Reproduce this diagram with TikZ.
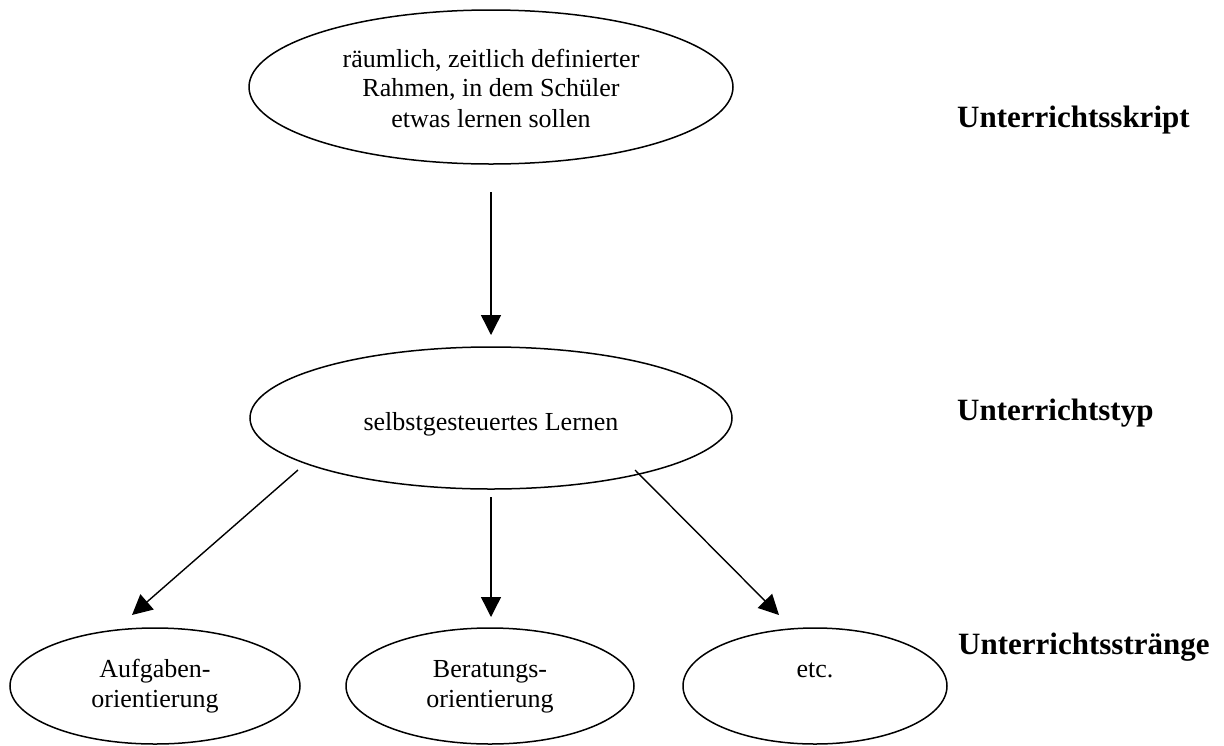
\documentclass[tikz,border=0pt]{standalone}
\usepackage{fontspec}
\setmainfont{Liberation Serif}
\usetikzlibrary{shapes.geometric,arrows.meta}

\begin{document}
\begin{tikzpicture}[x=1pt,y=-1pt,
  oval/.style={draw=black,line width=1.5pt,ellipse,inner sep=0pt},
  txt/.style={anchor=base,inner sep=0pt,font=\fontsize{26}{30}\selectfont},
  level/.style={anchor=base west,inner sep=0pt,font=\fontsize{31}{36}\selectfont\bfseries},
  link/.style={line width=1.4pt,-{Triangle[length=20pt,width=20pt]}}]
  \useasboundingbox (0,0) rectangle (1224,745);

  % ellipses
  \node[oval,minimum width=484pt,minimum height=154pt] (skript) at (491,87) {};
  \node[oval,minimum width=482pt,minimum height=142pt] (typ) at (491,418) {};
  \node[oval,minimum width=290pt,minimum height=116pt] (aufg) at (155,686) {};
  \node[oval,minimum width=288pt,minimum height=116pt] (berat) at (490,686) {};
  \node[oval,minimum width=264pt,minimum height=116pt] (etc) at (815,686) {};

  % texts inside the ellipses
  \node[txt] (skriptA) at (491,67) {räumlich, zeitlich definierter};
  \node[txt] (skriptB) at (491,96) {Rahmen, in dem Schüler};
  \node[txt] (skriptC) at (491,127) {etwas lernen sollen};
  \node[txt] (typT) at (491,430) {selbstgesteuertes Lernen};
  \node[txt] (aufgA) at (155,677) {Aufgaben-};
  \node[txt] (aufgB) at (155,707) {orientierung};
  \node[txt] (beratA) at (490,677) {Beratungs-};
  \node[txt] (beratB) at (490,707) {orientierung};
  \node[txt] (etcT) at (815,677) {etc.};

  % level labels
  \node[level] (l1) at (957,127) {Unterrichtsskript};
  \node[level] (l2) at (957,420) {Unterrichtstyp};
  \node[level] (l3) at (958,654) {Unterrichtsstränge};

  % arrow end points
  \coordinate (s0) at (491,192);
  \coordinate (e0) at (491,335);
  \coordinate (s1) at (298,470);
  \coordinate (e1) at (132,615);
  \coordinate (s2) at (491,497);
  \coordinate (e2) at (491,617);
  \coordinate (s3) at (635,470);
  \coordinate (e3) at (779,615);

  \draw[link] (s0) -- (e0);
  \draw[link] (s1) -- (e1);
  \draw[link] (s2) -- (e2);
  \draw[link] (s3) -- (e3);
\end{tikzpicture}
\end{document}
